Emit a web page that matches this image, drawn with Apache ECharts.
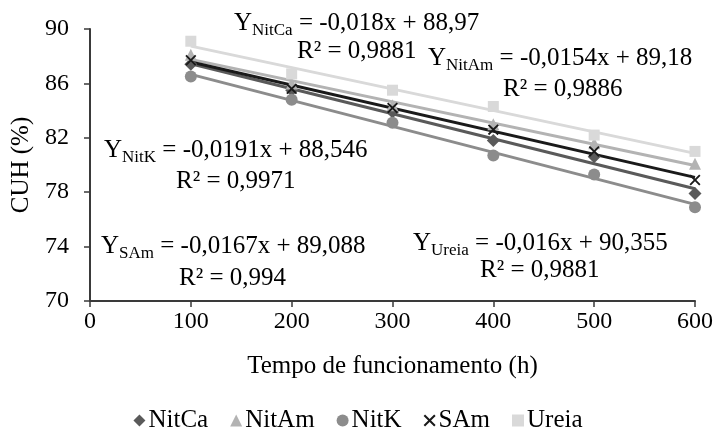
<!DOCTYPE html>
<html><head><meta charset="utf-8">
<script src="https://cdn.jsdelivr.net/npm/echarts@6/dist/echarts.min.js"></script>
<style>html,body{margin:0;padding:0;background:#fff}#c{width:716px;height:434px}</style>
</head><body><div id="c"></div>
<script>
var hours = [100, 200, 300, 400, 500, 600];
var seriesNames = ['NitCa', 'NitAm', 'NitK', 'SAm', 'Ureia'];
var NitCa = [87.4, 85.5, 83.9, 81.8, 80.6, 77.9];
var NitAm = [88.1, 86.0, 84.4, 83.0, 81.6, 80.1];
var NitK  = [86.5, 84.8, 83.1, 80.7, 79.3, 76.9];
var SAm   = [87.7, 85.6, 84.2, 82.6, 81.0, 78.9];
var Ureia = [89.1, 86.7, 85.5, 84.3, 82.2, 81.0];
var xTicks = [0, 100, 200, 300, 400, 500, 600];
var yTicks = [70, 74, 78, 82, 86, 90];
var eqSubs = ['NitCa', 'NitAm', 'NitK', 'SAm', 'Ureia'];
var eqTexts = [' = -0,018x + 88,97', ' = -0,0154x + 89,18', ' = -0,0191x + 88,546', ' = -0,0167x + 89,088', ' = -0,016x + 90,355'];
var r2Texts = ['R² = 0,9881', 'R² = 0,9886', 'R² = 0,9971', 'R² = 0,994', 'R² = 0,9881'];

var values = [NitCa, NitAm, NitK, SAm, Ureia];
var colors = ['#5a5a5a', '#b3b3b3', '#8c8c8c', '#1a1a1a', '#d9d9d9'];
var xShape = 'path://M0,0.12 L0.12,0 L0.5,0.38 L0.88,0 L1,0.12 L0.62,0.5 L1,0.88 L0.88,1 L0.5,0.62 L0.12,1 L0,0.88 L0.38,0.5 Z';
var symbols = ['diamond', 'triangle', 'circle', xShape, 'rect'];
var sizes = [13, 12, 12, 11, 11];
var FONT = '"Liberation Serif", "Times New Roman", serif';

function fit(xs, ys) {
  var n = xs.length, sx = 0, sy = 0, sxy = 0, sxx = 0;
  for (var i = 0; i < n; i++) { sx += xs[i]; sy += ys[i]; sxy += xs[i]*ys[i]; sxx += xs[i]*xs[i]; }
  var b = (n*sxy - sx*sy) / (n*sxx - sx*sx);
  var a = (sy - b*sx) / n;
  return [[xs[0], a + b*xs[0]], [xs[n-1], a + b*xs[n-1]]];
}

var series = [];
values.forEach(function (v, i) {
  series.push({
    name: seriesNames[i] + '_trend', type: 'line', data: fit(hours, v),
    symbol: 'none', lineStyle: {color: colors[i], width: 3}, z: 2, silent: true
  });
});
values.forEach(function (v, i) {
  series.push({
    name: seriesNames[i], type: 'scatter',
    data: hours.map(function (h, k) { return [h, v[k]]; }),
    symbol: symbols[i], symbolSize: sizes[i],
    itemStyle: {color: colors[i], opacity: 1}, z: 3
  });
});

var eqPos = [
  {x: 234, y: 8, rx: 297, ry: 39},
  {x: 428, y: 43, rx: 503, ry: 77},
  {x: 104, y: 135, rx: 176, ry: 169},
  {x: 101, y: 231, rx: 179, ry: 266},
  {x: 413, y: 228, rx: 480, ry: 258}
];
var titles = [];
eqSubs.forEach(function (s, i) {
  var p = eqPos[i];
  titles.push({
    text: '{y|Y}{s|' + s + '}{y|' + eqTexts[i] + '}',
    left: p.x, top: p.y, padding: 0, itemGap: 0,
    textStyle: {
      fontFamily: FONT, fontSize: 25, fontWeight: 'normal', color: '#000',
      rich: {
        y: {fontFamily: FONT, fontSize: 25, color: '#000', fontWeight: 'normal', lineHeight: 31},
        s: {fontFamily: FONT, fontSize: 17, color: '#000', fontWeight: 'normal', padding: [14, 0, 0, 0]}
      }
    }
  });
  titles.push({
    text: r2Texts[i], left: p.rx, top: p.ry, padding: 0,
    textStyle: {fontFamily: FONT, fontSize: 25, fontWeight: 'normal', color: '#000', lineHeight: 25}
  });
});

var chart = echarts.init(document.getElementById('c'));
chart.setOption({
  animation: false,
  backgroundColor: '#fff',
  title: titles,
  grid: {left: 90, right: 21, top: 29, bottom: 133, containLabel: false},
  xAxis: {
    type: 'value', min: xTicks[0], max: xTicks[xTicks.length-1], interval: 100,
    name: 'Tempo de funcionamento (h)', nameLocation: 'middle', nameGap: 53,
    nameTextStyle: {fontFamily: FONT, fontSize: 25, color: '#000'},
    axisLine: {lineStyle: {color: '#3a3a3a', width: 2}},
    axisTick: {show: true, length: 6, lineStyle: {color: '#3a3a3a', width: 1.5}},
    axisLabel: {fontFamily: FONT, fontSize: 24, color: '#000', margin: 9},
    splitLine: {show: false}
  },
  yAxis: {
    type: 'value', min: yTicks[0], max: yTicks[yTicks.length-1], interval: 4,
    name: 'CUH (%)', nameLocation: 'middle', nameGap: 50, nameRotate: 90,
    nameTextStyle: {fontFamily: FONT, fontSize: 25, color: '#000'},
    axisLine: {show: true, lineStyle: {color: '#3a3a3a', width: 2}},
    axisTick: {show: true, length: 6, lineStyle: {color: '#3a3a3a', width: 1.5}},
    axisLabel: {fontFamily: FONT, fontSize: 24, color: '#000', margin: 21},
    splitLine: {show: false}
  },
  legend: {
    data: seriesNames.map(function (n, i) { return {name: n, icon: symbols[i]}; }),
    bottom: 1, left: 'center', itemWidth: 12, itemHeight: 12, itemGap: 22, padding: 0,
    textStyle: {fontFamily: FONT, fontSize: 25, color: '#000', padding: [0, 0, 0, -2]}
  },
  series: series
});
</script></body></html>
